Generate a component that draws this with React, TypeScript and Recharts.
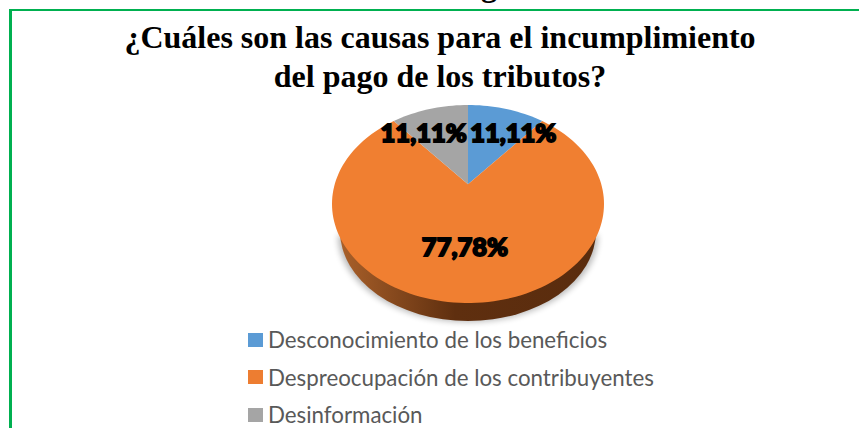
import { PieChart, Pie, Legend } from 'recharts'

const CATEGORIES = [
  'Desconocimiento de los beneficios',
  'Despreocupación de los contribuyentes',
  'Desinformación',
]
const VALUES = [11.11, 77.78, 11.11]
const LABELS = ['11,11%', '77,78%', '11,11%']
const FACE_COLORS = ['#5b9bd5', '#f07f31', '#a5a5a5']
const LEGEND_COLORS = ['#5b9bd5', '#ed7d31', '#a5a5a5']

const data = CATEGORIES.map((name, i) => ({
  name,
  value: VALUES[i],
  fill: FACE_COLORS[i],
  legendColor: LEGEND_COLORS[i],
  label: LABELS[i],
}))

const WIDTH = 859
const HEIGHT = 428
const CX = 468
const CY = 204
const RX = 136
const RY = 99
const TILT = 0.2 // moves the slice apex up from the ellipse centre, like Excel's 3D pie
const RAD = Math.PI / 180

// recharts angle + radius fraction -> point on the tilted face
function project(angle: number, r: number, cx: number, cy: number, rx: number) {
  const u = r * Math.cos(angle * RAD)
  const v = r * Math.sin(angle * RAD)
  const d = 1 + TILT * v
  const x = (u * Math.sqrt(1 - TILT * TILT)) / d
  const y = (v + TILT) / d
  return { x: cx + x * rx, y: cy - y * rx * (RY / RX) }
}

// lower half of an ellipse, closed along its widest line
function lowerHalf(cx: number, cy: number, rx: number, ry: number) {
  return `M${cx - rx},${cy} A${rx},${ry} 0 0 0 ${cx + rx},${cy} Z`
}

function FaceSector(props: any) {
  const { cx, cy, outerRadius, startAngle, endAngle, fill, index } = props
  const pts: string[] = []
  const steps = Math.ceil(Math.abs(endAngle - startAngle) / 2)
  for (let i = 0; i <= steps; i++) {
    const a = startAngle + ((endAngle - startAngle) * i) / steps
    const p = project(a, 1, cx, cy, outerRadius)
    pts.push(`${p.x.toFixed(2)},${p.y.toFixed(2)}`)
  }
  const apex = project(0, 0, cx, cy, outerRadius)
  const coversFront = startAngle > -90 && endAngle < -90
  return (
    <g>
      {coversFront && (
        <g>
          <defs>
            <linearGradient id={`wall-${index}`} x1="0" x2="1" y1="0" y2="0">
              <stop offset="0" stopColor="#a9602a" />
              <stop offset="0.45" stopColor="#5f2f0f" />
              <stop offset="1" stopColor="#5a2c0e" />
            </linearGradient>
            <filter id="pie-shadow" x="-10%" y="-10%" width="120%" height="125%">
              <feGaussianBlur stdDeviation="3" />
            </filter>
          </defs>
          <path
            d={lowerHalf(cx, cy + 31, outerRadius - 6, RY - 12)}
            fill="#000"
            opacity={0.28}
            filter="url(#pie-shadow)"
          />
          <path d={lowerHalf(cx, cy + 27, outerRadius - 8, RY - 9)} fill={`url(#wall-${index})`} />
        </g>
      )}
      <path d={`M${apex.x},${apex.y} L${pts.join(' L')} Z`} fill={fill} stroke="none" />
    </g>
  )
}

const LABEL_NUDGE = [
  { r: 0.62, dx: 20, dy: -3 },
  { r: 0.6, dx: -3, dy: -3 },
  { r: 0.62, dx: -19, dy: -3 },
]

function SliceLabel(props: any) {
  const { cx, cy, outerRadius, midAngle, index } = props
  const n = LABEL_NUDGE[index]
  const p = project(midAngle, n.r, cx, cy, outerRadius)
  return (
    <text
      x={p.x + n.dx}
      y={p.y + n.dy}
      textAnchor="middle"
      dominantBaseline="central"
      fontFamily="Lato, sans-serif"
      fontWeight={900}
      fontSize={25.5}
      fill="#000"
      stroke="#000"
      strokeWidth={1.8}
    >
      {LABELS[index]}
    </text>
  )
}

function LegendList() {
  return (
    <div style={{ fontFamily: 'Lato, sans-serif', fontSize: 22.3, color: '#595959', lineHeight: '37.5px' }}>
      {data.map((d) => (
        <div key={d.name} style={{ display: 'flex', alignItems: 'center', whiteSpace: 'nowrap' }}>
          <span style={{ width: 15, height: 14, marginRight: 5, background: d.legendColor, flex: 'none' }} />
          {d.name}
        </div>
      ))}
    </div>
  )
}

export default function App() {
  return (
    <div
      style={{
        position: 'absolute',
        left: 0,
        top: 0,
        width: WIDTH,
        height: HEIGHT,
        overflow: 'hidden',
        background: '#fff',
      }}
    >
      <div
        style={{
          position: 'absolute',
          left: 0,
          top: -33,
          width: 978,
          textAlign: 'center',
          fontFamily: '"Liberation Serif", serif',
          fontWeight: 700,
          fontSize: 32,
          lineHeight: '36px',
          color: '#000',
        }}
      >
        g
      </div>
      <div
        style={{
          position: 'absolute',
          left: 9,
          top: 9,
          width: WIDTH,
          height: HEIGHT,
          borderTop: '2px solid #00b050',
          borderLeft: '3px solid #00b050',
          boxSizing: 'border-box',
        }}
      />
      <div
        style={{
          position: 'absolute',
          left: 0,
          top: 18,
          width: 880,
          textAlign: 'center',
          fontFamily: '"Liberation Serif", serif',
          fontWeight: 700,
          fontSize: 32,
          lineHeight: '39px',
          color: '#000',
        }}
      >
        ¿Cuáles son las causas para el incumplimiento
        <br />
        del pago de los tributos?
      </div>
      <div style={{ position: 'absolute', left: 0, top: 0 }}>
        <PieChart width={WIDTH} height={HEIGHT} margin={{ top: 0, right: 0, bottom: 0, left: 0 }}>
          <Pie
            data={data}
            dataKey="value"
            nameKey="name"
            cx={CX}
            cy={CY}
            outerRadius={RX}
            startAngle={90}
            endAngle={-270}
            paddingAngle={0}
            stroke="none"
            shape={FaceSector}
            label={SliceLabel}
            labelLine={false}
            isAnimationActive={false}
          />
          <Legend
            content={<LegendList />}
            layout="vertical"
            wrapperStyle={{ position: 'absolute', left: 248, top: 321, width: 500, bottom: 'auto' }}
          />
        </PieChart>
      </div>
    </div>
  )
}
